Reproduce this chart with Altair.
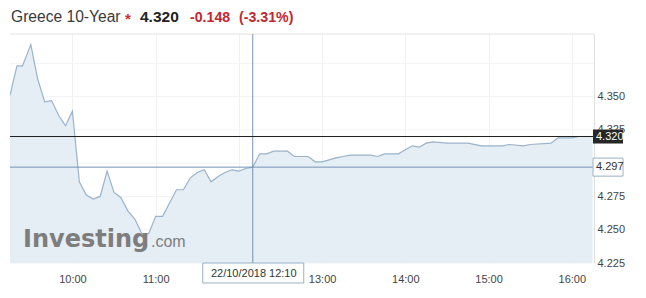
import altair as alt
import pandas as pd

# ---- data ----
times = ["09:15", "09:20", "09:24", "09:30", "09:35", "09:40", "09:45", "09:50", "09:55",
         "10:00", "10:05", "10:10", "10:15", "10:20", "10:25", "10:30", "10:35", "10:40",
         "10:45", "10:50", "10:55", "11:00", "11:05", "11:10", "11:15", "11:20", "11:25",
         "11:30", "11:35", "11:40", "11:45", "11:50", "11:55", "12:00", "12:05", "12:10",
         "12:15", "12:20", "12:25", "12:35", "12:40", "12:50", "12:55", "13:00", "13:05",
         "13:10", "13:15", "13:20", "13:35", "13:40", "13:45", "13:55", "14:00", "14:05",
         "14:10", "14:15", "14:20", "14:30", "14:45", "14:55", "15:10", "15:15", "15:25",
         "15:30", "15:45", "15:50", "16:00", "16:05", "16:15"]
yields = [4.351, 4.373, 4.373, 4.389, 4.363, 4.346, 4.347, 4.336, 4.328,
          4.339, 4.286, 4.276, 4.273, 4.275, 4.294, 4.278, 4.274, 4.264,
          4.258, 4.247, 4.247, 4.260, 4.260, 4.270, 4.280, 4.280, 4.289,
          4.293, 4.295, 4.286, 4.290, 4.293, 4.295, 4.294, 4.296, 4.297,
          4.307, 4.307, 4.309, 4.309, 4.305, 4.305, 4.301, 4.301, 4.3025,
          4.304, 4.305, 4.306, 4.306, 4.305, 4.307, 4.307, 4.310, 4.313,
          4.312, 4.315, 4.316, 4.315, 4.315, 4.313, 4.313, 4.314, 4.313,
          4.314, 4.315, 4.319, 4.319, 4.320, 4.320]

x_ticks = ["10:00", "11:00", "13:00", "14:00", "15:00", "16:00"]
y_ticks = [4.225, 4.250, 4.275, 4.325, 4.350]
y_grid = [4.225, 4.250, 4.275, 4.300, 4.325, 4.350, 4.375]
x_range = ["09:15", "16:16"]
y_range = [4.225, 4.397]

last_value = 4.320
cross_value = 4.297
cross_time = "12:10"
cross_label = "22/10/2018 12:10"

header_name = "Greece 10-Year"
header_price = "4.320"
header_change = "-0.148"
header_pct = "(-3.31%)"


def to_min(t):
    h, m = t.split(":")
    return int(h) * 60 + int(m)


df = pd.DataFrame({"t": [to_min(t) for t in times], "v": yields})
cross_t = to_min(cross_time)

FONT = "Liberation Sans"

xs = alt.Scale(domain=[to_min(x_range[0]), to_min(x_range[1])], nice=False, zero=False)
ys = alt.Scale(domain=y_range, nice=False, zero=False)

x_enc = alt.X("t:Q", scale=xs,
              axis=alt.Axis(values=[to_min(t) for t in x_ticks] + [720],
                            labelExpr="datum.value == 720 ? '' : floor(datum.value/60) + ':00'",
                            title=None, domain=False, ticks=False, labelPadding=10,
                            labelFontSize=11, labelColor="#444444", labelFont=FONT,
                            grid=True, gridColor="#f1f1f1"))
y_enc = alt.Y("v:Q", scale=ys,
              axis=alt.Axis(orient="right", values=y_ticks, format=".3f", title=None,
                            domain=True, domainColor="#dedede", ticks=False, labelPadding=3,
                            labelFontSize=11, labelColor="#444444", labelFont=FONT,
                            grid=False))

base = alt.Chart(df)
area = base.mark_area(color="#e5edf5", clip=True).encode(x=x_enc, y=y_enc)
line = base.mark_line(color="#9ab3ca", strokeWidth=1.2, clip=True).encode(x="t:Q", y="v:Q")

grid_df = pd.DataFrame({"g": y_grid})
y_gridlines = alt.Chart(grid_df).mark_rule(color="#f3f3f3").encode(
    y=alt.Y("g:Q"), x=alt.value(0), x2=alt.value(584))

one = alt.Chart(pd.DataFrame({"k": [0]}))

top_border = one.mark_rule(color="#e2e2e2").encode(
    x=alt.value(0), x2=alt.value(584), y=alt.value(0))

h_cross = one.mark_rule(color="#7393b3", strokeWidth=1).encode(
    y=alt.datum(cross_value), x=alt.value(0), x2=alt.value(584))
v_cross = one.mark_rule(color="#7393b3", strokeWidth=1).encode(
    x=alt.datum(cross_t), y=alt.value(0), y2=alt.value(229))
last_rule = one.mark_rule(color="#1e1e1e", strokeWidth=1).encode(
    y=alt.datum(last_value), x=alt.value(0), x2=alt.value(584))

last_box = one.mark_rect(color="#262626", yOffset=-7, y2Offset=7).encode(
    x=alt.value(583), x2=alt.value(613), y=alt.datum(last_value), y2=alt.datum(last_value))
last_txt = alt.Chart(pd.DataFrame({"s": [f"{last_value:.3f}"]})).mark_text(
    color="white", fontSize=11, font=FONT, align="left", baseline="middle").encode(
    x=alt.value(586), y=alt.datum(last_value), text="s:N")

cross_box = one.mark_rect(fill="white", stroke="#9ab0c6", strokeWidth=1,
                          yOffset=-9, y2Offset=9).encode(
    x=alt.value(583), x2=alt.value(613), y=alt.datum(cross_value), y2=alt.datum(cross_value))
cross_txt = alt.Chart(pd.DataFrame({"s": [f"{cross_value:.3f}"]})).mark_text(
    color="#333333", fontSize=11, font=FONT, align="left", baseline="middle").encode(
    x=alt.value(586), y=alt.datum(cross_value), text="s:N")

date_box = one.mark_rect(fill="white", stroke="#9ab0c6", strokeWidth=1,
                         xOffset=-50, x2Offset=51).encode(
    x=alt.datum(cross_t), x2=alt.datum(cross_t), y=alt.value(229), y2=alt.value(249))
date_txt = alt.Chart(pd.DataFrame({"s": [cross_label]})).mark_text(
    color="#333333", fontSize=11, font=FONT, align="center", baseline="middle", dx=1).encode(
    x=alt.datum(cross_t), y=alt.value(239.5), text="s:N")

# watermark
wm1 = alt.Chart(pd.DataFrame({"s": ["Investing"]})).mark_text(
    color="#7d7d7d", fontSize=24, font="DejaVu Sans", fontWeight="bold",
    align="left", baseline="alphabetic").encode(
    x=alt.value(13), y=alt.value(213), text="s:N")
wm2 = alt.Chart(pd.DataFrame({"s": [".com"]})).mark_text(
    color="#7d7d7d", fontSize=16, font=FONT, align="left", baseline="alphabetic").encode(
    x=alt.value(141), y=alt.value(213), text="s:N")

# header
h1 = alt.Chart(pd.DataFrame({"s": [header_name]})).mark_text(
    color="#3a3a3a", fontSize=15.6, font=FONT, align="left", baseline="alphabetic").encode(
    x=alt.value(1), y=alt.value(-12), text="s:N")
h_star = alt.Chart(pd.DataFrame({"s": ["*"]})).mark_text(
    color="#c8323a", fontSize=15, font=FONT, fontWeight="bold", align="center",
    baseline="alphabetic").encode(x=alt.value(118), y=alt.value(-10), text="s:N")
h2 = alt.Chart(pd.DataFrame({"s": [header_price]})).mark_text(
    color="#222222", fontSize=15.5, font=FONT, fontWeight="bold", align="left",
    baseline="alphabetic").encode(x=alt.value(130), y=alt.value(-12), text="s:N")
h3 = alt.Chart(pd.DataFrame({"s": [header_change]})).mark_text(
    color="#c3262e", fontSize=14.2, font=FONT, fontWeight="bold", align="left",
    baseline="alphabetic").encode(x=alt.value(180), y=alt.value(-12), text="s:N")
h4 = alt.Chart(pd.DataFrame({"s": [header_pct]})).mark_text(
    color="#c3262e", fontSize=14.2, font=FONT, fontWeight="bold", align="left",
    baseline="alphabetic").encode(x=alt.value(229), y=alt.value(-12), text="s:N")

chart = alt.layer(
    y_gridlines, area, line, wm1, wm2, top_border, h_cross, v_cross, last_rule,
    cross_box, cross_txt, last_box, last_txt, date_box, date_txt,
    h1, h_star, h2, h3, h4
).properties(
    width=584, height=229,
    padding={"left": 10, "top": 34, "right": 52, "bottom": 35},
    autosize=alt.AutoSizeParams(type="none"),
    background="white",
).configure_view(strokeWidth=0)

chart.save("out.html", embed_options={"renderer": "svg", "actions": False})
